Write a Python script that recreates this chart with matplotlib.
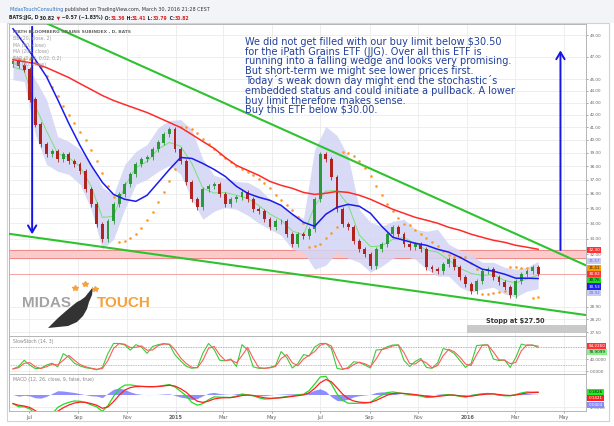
import numpy as np
import pandas as pd
import matplotlib
matplotlib.use("Agg")
import matplotlib.pyplot as plt
import matplotlib.dates as mdates
from matplotlib.patches import Rectangle, Polygon
from matplotlib.ticker import NullLocator

W, H, DPI = 614, 426, 100

# weekly samples (Wednesday to Wednesday)
week_start = "2014-06-11"
closes = [46.56, 46.20, 45.84, 43.25, 41.20, 39.63, 38.87, 39.10, 38.49, 38.87,
          38.35, 38.12, 37.61, 36.32, 35.27, 33.93, 32.95, 34.13, 35.27, 35.96,
          36.67, 37.39, 38.12, 38.49, 38.64, 39.25, 39.78, 40.41, 40.80, 39.25,
          38.35, 36.81, 35.62, 35.07, 36.32, 36.53, 36.67, 35.96, 35.27, 35.62,
          35.76, 36.10, 35.62, 34.93, 34.80, 34.26, 33.73, 34.13, 34.13, 33.28,
          32.64, 33.28, 33.15, 33.60, 35.62, 38.87, 38.49, 37.17, 34.93, 33.93,
          33.73, 32.83, 32.32, 32.01, 31.27, 32.32, 32.64, 33.28, 33.73, 33.28,
          32.64, 32.45, 32.64, 32.32, 31.21, 31.09, 30.97, 31.39, 31.70, 31.21,
          30.61, 30.20, 29.79, 30.37, 30.97, 31.09, 30.61, 30.31, 30.02, 29.56,
          30.37, 30.79, 30.97, 31.21, 30.82]

# indicator lines read every 2nd week
ma50 = [49.64, 48.22, 46.74, 45.22, 43.25, 41.28, 39.55, 38.05, 36.81, 35.96,
        35.62, 35.48, 35.90, 36.81, 37.75, 38.64, 38.57, 38.19, 37.75, 37.24,
        36.53, 36.04, 35.76, 35.55, 35.20, 34.60, 34.06, 33.80, 34.60, 35.07,
        35.27, 35.14, 34.66, 33.80, 33.08, 32.89, 32.70, 32.57, 32.32, 32.14,
        31.82, 31.45, 31.09, 30.97, 30.79, 30.55, 30.55, 30.53]
ma200 = [46.74, 46.56, 46.38, 46.02, 45.58, 45.14, 44.61, 44.10, 43.59, 43.17,
         42.83, 42.50, 42.17, 41.77, 41.36, 40.96, 40.41, 39.86, 39.33, 38.64,
         38.05, 37.68, 37.32, 36.88, 36.60, 36.39, 36.10, 35.96, 36.04, 36.17,
         36.10, 35.90, 35.62, 35.27, 34.93, 34.66, 34.39, 34.20, 34.00, 33.73,
         33.54, 33.28, 33.08, 32.89, 32.76, 32.57, 32.45, 32.32]
bb_upper = [47.20, 46.74, 44.96, 43.25, 40.25, 39.86, 39.25, 38.12, 36.46, 35.96,
            38.12, 39.10, 39.63, 40.96, 41.52, 41.60, 40.80, 38.49, 37.32, 37.10,
            36.88, 36.81, 36.39, 35.62, 35.20, 34.66, 34.33, 39.25, 41.04, 40.33,
            38.72, 34.93, 34.06, 33.80, 34.13, 34.26, 33.60, 33.47, 33.60, 32.64,
            32.26, 31.95, 31.51, 31.51, 31.21, 31.09, 31.21, 31.57]
bb_lower = [44.96, 44.79, 40.41, 38.12, 37.61, 37.39, 36.67, 34.93, 32.32, 32.95,
            34.93, 36.67, 37.03, 37.61, 38.05, 37.39, 35.62, 34.26, 34.80, 35.07,
            34.93, 34.53, 34.00, 33.60, 33.21, 32.32, 32.14, 31.09, 31.33, 32.14,
            31.76, 31.51, 30.91, 31.27, 31.76, 31.89, 31.70, 31.09, 30.67, 30.67,
            30.02, 29.73, 29.91, 30.02, 29.62, 29.45, 29.79, 29.92]

stoch_k = [7, 15, 36, 20, 8, 9, 20, 26, 14, 58,
           46, 26, 17, 11, 8, 4, 12, 59, 92, 92,
           87, 70, 88, 80, 59, 82, 88, 92, 88, 54,
           34, 16, 9, 12, 60, 92, 72, 36, 34, 40,
           15, 88, 70, 14, 9, 9, 12, 18, 65, 45,
           10, 25, 55, 50, 80, 92, 92, 75, 9, 5,
           12, 31, 28, 20, 10, 70, 72, 81, 87, 87,
           35, 15, 32, 42, 12, 9, 27, 75, 70, 58,
           35, 12, 25, 85, 87, 87, 40, 35, 37, 12,
           45, 90, 85, 87, 79]

macd = [-0.70, -0.95, -0.95, -1.10, -1.50, -1.80, -1.80, -1.50, -1.00, -0.75,
        -0.60, -0.50, -0.52, -0.62, -0.80, -0.95, -1.30, -0.85, -0.15, 0.45,
        0.72, 0.74, 0.68, 0.63, 0.60, 0.60, 0.63, 0.70, 0.77, 0.58,
        0.25, -0.10, -0.60, -0.82, -0.70, -0.40, -0.18, -0.20, -0.22, -0.23,
        -0.12, 0.03, -0.02, -0.10, -0.25, -0.35, -0.33, -0.27, -0.22, -0.15,
        -0.10, -0.02, 0.02, 0.30, 0.80, 1.35, 1.40, 0.80, 0.05, -0.45,
        -0.67, -0.68, -0.67, -0.66, -0.60, -0.30, -0.05, 0.15, 0.20, 0.13,
        0.06, 0.00, -0.05, -0.12, -0.23, -0.20, -0.12, -0.05, 0.00, -0.05,
        -0.15, -0.20, -0.10, 0.00, 0.06, 0.08, 0.05, -0.05, -0.10, -0.10,
        0.00, 0.12, 0.20, 0.18, 0.18]

month_ticks = ["2014-07-01", "2014-09-01", "2014-11-01", "2015-01-01", "2015-03-01",
               "2015-05-01", "2015-07-01", "2015-09-01", "2015-11-01", "2016-01-01",
               "2016-03-01", "2016-05-01"]
month_labels = ["Jul", "Sep", "Nov", "2015", "Mar", "May", "Jul", "Sep", "Nov",
                "2016", "Mar", "May"]
price_ticks = [49, 47, 45, 44, 43, 42, 41, 40, 39, 38, 37, 36, 35, 34, 33, 32,
               28.9, 28.2, 27.5]

# drawn annotations (date, price)
wedge_upper = [("2014-07-25", 50.1), ("2016-05-30", 31.3)]
wedge_lower = [("2014-06-07", 33.3), ("2016-05-30", 28.43)]
arrow_down = [("2014-07-05", 50.1), ("2014-07-05", 33.1)]
arrow_up = [("2016-04-27", 32.1), ("2016-04-27", 47.85)]
resist_band = (31.75, 32.30)
last_close = 30.82
stop_band = ("2016-01-01", 27.46, 27.88)

price_tags = [("32.30", 32.30, "#ff3333", "white"), ("31.57", 31.57, "#c9ccf3", "#6d72c6"),
              ("31.41", 31.41, "#ff9a00", "#222222"), ("30.82", 30.82, "#ff3333", "white"),
              ("30.76", 30.76, "#22dd22", "#111111"), ("30.53", 30.53, "#2020ee", "white"),
              ("29.92", 29.92, "#c9ccf3", "#6d72c6")]
stoch_tags = [("84.2260", 84.226, "#ff3333", "white"), ("78.9099", 78.91, "#86f286", "#222222")]
macd_tags = [("0.1826", 0.1826, "#22ee22", "#111111"), ("0.1421", 0.1421, "#ff2020", "white"),
             ("0.0404", 0.0404, "#8a8aff", "white")]

note = ("We did not get filled with our buy limit below $30.50\n"
        "for the iPath Grains ETF (JJG). Over all this ETF is\n"
        "running into a falling wedge and looks very promising.\n"
        "But short-term we might see lower prices first.\n"
        "Today\u00b4s weak down day might end the stochastic\u00b4s\n"
        "embedded status and could initiate a pullback. A lower\n"
        "buy limit therefore makes sense.\n"
        "Buy this ETF below $30.00.")

# ---------------------------------------------------------------------------
dates = pd.date_range(week_start, periods=len(closes), freq="7D")
xs = mdates.date2num(dates)
xs2 = xs[::2]
c = np.array(closes)
o = np.append(c[0] * 0.995, c[:-1])
hi = np.maximum(o, c) * 1.005
lo = np.minimum(o, c) * 0.995
bb_mid = (np.array(bb_upper) + np.array(bb_lower)) / 2


def psar(high, low, step=0.02, max_step=0.2):
    n = len(high)
    out = np.zeros(n)
    bull = False
    af = step
    ep = low[0]
    out[0] = high[0]
    for i in range(1, n):
        val = out[i - 1] + af * (ep - out[i - 1])
        if bull:
            val = min(val, low[i - 1], low[max(i - 2, 0)])
            if low[i] < val:
                bull, val, ep, af = False, ep, low[i], step
            elif high[i] > ep:
                ep, af = high[i], min(af + step, max_step)
        else:
            val = max(val, high[i - 1], high[max(i - 2, 0)])
            if high[i] > val:
                bull, val, ep, af = True, ep, high[i], step
            elif low[i] < ep:
                ep, af = low[i], min(af + step, max_step)
        out[i] = val
    return out


sar = psar(hi, lo)
stoch_d = pd.Series(stoch_k).rolling(2, min_periods=1).mean().values
macd_arr = np.array(macd)
signal = pd.Series(macd_arr).ewm(span=3, adjust=False).mean().values
hist = macd_arr - signal

# ---------------------------------------------------------------------------
fig = plt.figure(figsize=(W / DPI, H / DPI), dpi=DPI)
fig.patch.set_facecolor("white")


def fx(px):
    return px / W


def fy(py):
    return 1 - py / H


fig.patches.append(Rectangle((0, fy(23)), 1, 23 / H, transform=fig.transFigure,
                             fc="#f2f4f7", ec="none", zorder=0))
fig.patches.append(Rectangle((fx(7), fy(421)), fx(602), 398 / H, transform=fig.transFigure,
                             fc="none", ec="#d2d2d2", lw=0.8, zorder=0))

ax = fig.add_axes([fx(9), fy(336), fx(577), 312 / H])
ax_st = fig.add_axes([fx(9), fy(374), fx(577), 38 / H], sharex=ax)
ax_md = fig.add_axes([fx(9), fy(411), fx(577), 37 / H], sharex=ax)

x_left = mdates.date2num(pd.Timestamp("2014-06-06"))
x_right = x_left + 723

tick_x = mdates.date2num(pd.to_datetime(month_ticks))
for a in (ax, ax_st, ax_md):
    a.set_xlim(x_left, x_right)
    a.set_xticks(tick_x)
    a.grid(True, color="#ebebeb", lw=0.6)
    a.set_axisbelow(True)
    a.yaxis.tick_right()
    a.tick_params(axis="both", labelsize=3, colors="#666666", length=1.5, width=0.4, pad=1.5)
    for sp in a.spines.values():
        sp.set_color("#b5b5b5")
        sp.set_linewidth(0.7)
ax.tick_params(axis="x", labelbottom=False, length=0)
ax_st.tick_params(axis="x", labelbottom=False, length=0)
ax_md.set_xticklabels(month_labels)
for lbl in ax_md.get_xticklabels():
    lbl.set_fontsize(3.6)
    if lbl.get_text().isdigit():
        lbl.set_fontweight("bold")

# main price panel
ax.set_yscale("log")
ax.set_ylim(27.3, 50.1)
ax.yaxis.set_minor_locator(NullLocator())
ax.set_yticks(price_ticks)
ax.set_yticklabels([f"{t:.2f}" for t in price_ticks])

ax.axhspan(resist_band[0], resist_band[1], color="#fbcaca", zorder=1)
ax.axhline(resist_band[0], color="#f08a8a", lw=0.7, zorder=1)
ax.axhline(resist_band[1], color="#f08a8a", lw=0.7, zorder=1)
ax.axhline(last_close, color="#f4a3a3", lw=0.7, zorder=1)
sb = mdates.date2num(pd.Timestamp(stop_band[0]))
ax.add_patch(Rectangle((sb, stop_band[1]), x_right - sb, stop_band[2] - stop_band[1],
                       fc="#c9c9c9", ec="none", zorder=1))

ax.fill_between(xs2, bb_lower, bb_upper, color="#d3d5f5", alpha=0.85, lw=0, zorder=2)
ax.plot(xs2, bb_mid, color="#77e077", lw=0.7, zorder=3)

colors = np.where(c >= o, "#2d9a3a", "#b0231f")
ax.vlines(xs, lo, hi, colors=colors, lw=0.6, zorder=4)
ax.bar(xs, np.abs(c - o) + 0.02, bottom=np.minimum(o, c), width=3.6, color=colors,
       lw=0, zorder=4)
ax.plot(xs, sar, ls="none", marker="o", ms=0.9, color="#ff9a2a", zorder=5)
ax.plot(xs2, ma50, color="#1a1aee", lw=1.1, zorder=5)
ax.plot(xs2, ma200, color="#ff2a2a", lw=1.1, zorder=5)

for line in (wedge_upper, wedge_lower):
    lx = mdates.date2num(pd.to_datetime([p[0] for p in line]))
    ax.plot(lx, [p[1] for p in line], color="#2ec22e", lw=1.5, zorder=6)
for arr in (arrow_down, arrow_up):
    (d0, p0), (d1, p1) = arr
    ax.annotate("", xy=(mdates.date2num(pd.Timestamp(d1)), p1),
                xytext=(mdates.date2num(pd.Timestamp(d0)), p0),
                arrowprops=dict(arrowstyle="->,head_length=0.5,head_width=0.3",
                                color="#1414e6", lw=1.4), zorder=7)

ax.text(0.409, 0.958, note, transform=ax.transAxes, ha="left", va="top",
        fontsize=7.05, color="#22409a", linespacing=0.95, zorder=8)
ax.text(mdates.date2num(pd.Timestamp("2016-03-01")), 28.12, "Stopp at $27.50",
        ha="center", va="center", fontsize=4.7, fontweight="bold", color="#333333", zorder=8)

legend_lines = ["BB (20, close, 2)", "MA (50, close)", "MA (200, close)",
                "SAR (0.02, 0.02, 0.2)", "MA (20, close)"]
ax.text(0.007, 0.974, "IPATH BLOOMBERG GRAINS SUBINDEX , D, BATS", transform=ax.transAxes,
        fontsize=3.2, color="#666666", fontweight="bold", va="center", zorder=8)
for i, t in enumerate(legend_lines):
    ax.text(0.007, 0.953 - i * 0.0208, t, transform=ax.transAxes, fontsize=3.3,
            color="#9a9a9a", va="center", zorder=8)

# stochastic panel
ax_st.set_ylim(-10, 117)
ax_st.set_yticks([40, 0])
ax_st.set_yticklabels(["40.0000", "0.0000"])
ax_st.axhline(80, color="#ff7070", lw=0.6, ls=(0, (1, 1)))
ax_st.axhline(20, color="#66dd66", lw=0.6, ls=(0, (1, 1)))
ax_st.plot(xs, stoch_k, color="#3acb3a", lw=0.8)
ax_st.plot(xs, stoch_d, color="#ff5a5a", lw=0.8)
ax_st.text(0.007, 0.86, "SlowStoch (14, 3)", transform=ax_st.transAxes, fontsize=3.3,
           color="#888888", va="center")

# MACD panel
ax_md.set_ylim(-1.27, 1.58)
ax_md.set_yticks([-1])
ax_md.set_yticklabels(["-1.0000"])
ax_md.fill_between(xs, 0, hist, color="#7a7aff", alpha=0.85, lw=0)
ax_md.plot(xs, macd_arr, color="#22dd22", lw=0.9)
ax_md.plot(xs, signal, color="#ff2020", lw=0.9)
ax_md.text(0.007, 0.84, "MACD (12, 26, close, 9, false, true)", transform=ax_md.transAxes,
           fontsize=3.3, color="#888888", va="center")


def side_tags(a, items, gap=6.3):
    placed = None
    for txt, val, bg, fg in sorted(items, key=lambda t: -t[1]):
        y = a.transData.transform((x_left, val))[1]
        if placed is not None and placed - y < gap:
            y = placed - gap
        placed = y
        fig.text(fx(588.5), y / H, txt, fontsize=3, color=fg, ha="left", va="center",
                 bbox=dict(boxstyle="square,pad=0.25", fc=bg, ec="none"))


fig.canvas.draw()
side_tags(ax, price_tags)
side_tags(ax_st, stoch_tags)
side_tags(ax_md, macd_tags)


# header
def text_run(x_px, y_px, pieces, size, weight="normal"):
    r = fig.canvas.get_renderer()
    x = x_px
    for txt, col in pieces:
        t = fig.text(fx(x), fy(y_px), txt, fontsize=size, color=col, fontweight=weight,
                     ha="left", va="center")
        x += t.get_window_extent(renderer=r).width


text_run(9, 10, [("MidasTouchConsulting", "#2d6fc0"),
                 (" published on TradingView.com, March 30, 2016 21:28 CEST", "#333333")], 3.5)
text_run(9, 18, [("BATS:JJG, D", "#222222"), (" 30.82", "#222222"), (" \u25bc", "#dd2222"),
                 (" \u22120.57 (\u22121.83%)", "#222222"), (" O:", "#222222"),
                 ("31.36", "#dd2222"), (" H:", "#222222"), ("31.41", "#dd2222"),
                 (" L:", "#222222"), ("30.79", "#dd2222"), (" C:", "#222222"),
                 ("30.82", "#dd2222")], 3.3, "bold")

# logo
fig.text(fx(22), fy(303), "MIDAS", fontsize=11, fontweight="bold", color="#a3a3a3",
         family="Liberation Sans", ha="left", va="center")
fig.text(fx(97), fy(303), "TOUCH", fontsize=11, fontweight="bold", color="#f5a23a",
         family="Liberation Sans", ha="left", va="center")
bull = [(48, 328), (58, 318), (66, 311), (72, 306), (77, 302), (81, 300), (85, 297),
        (89, 292), (93, 287), (92, 295), (89, 302), (87, 309), (83, 316), (77, 322),
        (68, 326)]
fig.patches.append(Polygon([(fx(x), fy(y)) for x, y in bull], closed=True,
                           transform=fig.transFigure, fc="#333333", ec="none"))
for sx, sy in [(75, 288), (85, 284), (95, 289)]:
    fig.lines.append(plt.Line2D([fx(sx)], [fy(sy)], transform=fig.transFigure, marker="*",
                                ms=4, color="#f5a23a", ls="none"))

fig.savefig("out.png", dpi=DPI)
